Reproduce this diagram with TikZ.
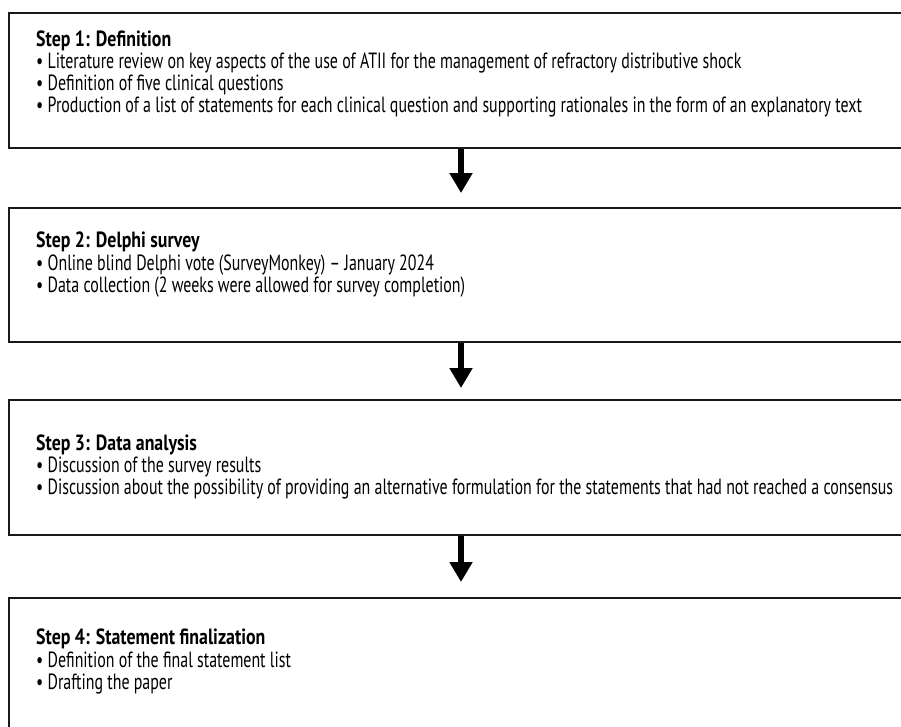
\documentclass[tikz,border=0pt]{standalone}
\usepackage{fontspec}
\setmainfont{PT Sans}[FakeStretch=0.724, BoldFeatures={FakeStretch=0.811}]
\usetikzlibrary{arrows.meta}
\tikzset{
  stepbox/.style={draw=black!90, line width=2pt, anchor=north west, minimum width=910pt, inner sep=0pt},
  ttl/.style={anchor=base west, inner sep=0pt, font=\fontsize{22}{22}\selectfont\bfseries},
  itm/.style={anchor=base west, inner sep=0pt, font=\fontsize{22}{22}\selectfont},
  flow/.style={line width=6.5pt, -{Triangle[width=22pt,length=20pt]}}
}
\begin{document}
\begin{tikzpicture}[x=1pt,y=-1pt]
\useasboundingbox (0,0) rectangle (901,726);
\clip (0,0) rectangle (901,726);
\node[stepbox, minimum height=135pt] (b1) at (8,12) {};
\node[stepbox, minimum height=134pt] (b2) at (8,207) {};
\node[stepbox, minimum height=135pt] (b3) at (8,399) {};
\node[stepbox, minimum height=160pt] (b4) at (8,597) {};

\node[ttl] (t1) at (36,46) {Step 1: Definition};
\node[itm] (t1a) at (36,68) {• Literature review on key aspects of the use of ATII for the management of refractory distributive shock};
\node[itm] (t1b) at (36,90) {• Definition of five clinical questions};
\node[itm] (t1c) at (36,112) {• Production of a list of statements for each clinical question and supporting rationales in the form of an explanatory text};

\node[ttl] (t2) at (36,247) {Step 2: Delphi survey};
\node[itm] (t2a) at (36,270) {• Online blind Delphi vote (SurveyMonkey) – January 2024};
\node[itm] (t2b) at (36,292) {• Data collection (2 weeks were allowed for survey completion)};

\node[ttl] (t3) at (36,450) {Step 3: Data analysis};
\node[itm] (t3a) at (36,472) {• Discussion of the survey results};
\node[itm] (t3b) at (36,494) {• Discussion about the possibility of providing an alternative formulation for the statements that had not reached a consensus};

\node[ttl] (t4) at (36,644) {Step 4: Statement finalization};
\node[itm] (t4a) at (36,667) {• Definition of the final statement list};
\node[itm] (t4b) at (36,689) {• Drafting the paper};

\coordinate (e1) at (461,193);
\coordinate (e2) at (461,388);
\coordinate (e3) at (461,582);
\draw[flow] (b1.south -| e1) -- (e1);
\draw[flow] (b2.south -| e2) -- (e2);
\draw[flow] (b3.south -| e3) -- (e3);
\end{tikzpicture}
\end{document}
